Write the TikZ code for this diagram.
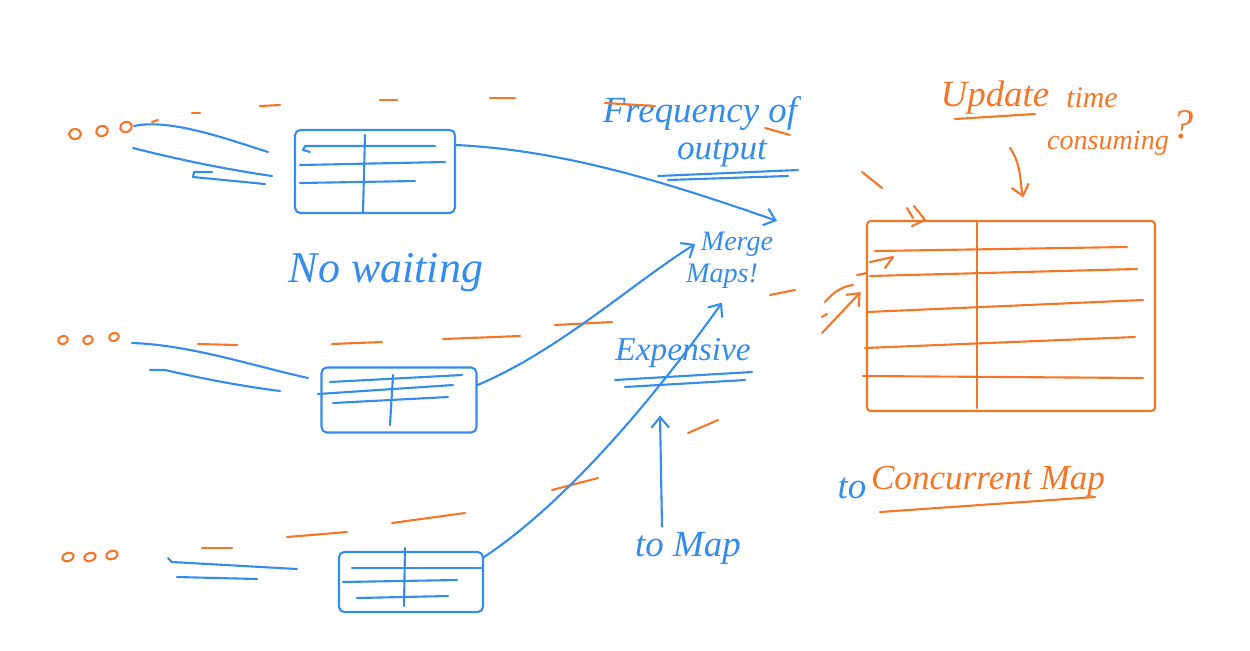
\documentclass[tikz,border=0pt]{standalone}
\usepackage{fontspec}
\setmainfont{Liberation Serif}
\usetikzlibrary{arrows.meta}
\definecolor{inkblue}{RGB}{52,140,236}
\definecolor{inkorange}{RGB}{246,118,40}
\begin{document}
\begin{tikzpicture}[x=0.02cm,y=-0.02cm, line cap=round, line join=round,
  pen/.style={line width=1.2pt},
  bluepen/.style={pen, draw=inkblue},
  orangepen/.style={pen, draw=inkorange},
  tbl/.style={bluepen, rectangle, rounded corners=3pt, inner sep=0pt},
  bigtbl/.style={orangepen, rectangle, rounded corners=2pt, inner sep=0pt},
  hand/.style={font=\itshape, inner sep=0pt, anchor=center},
  btxt/.style={hand, text=inkblue},
  otxt/.style={hand, text=inkorange},
  arr/.style={-{Straight Barb[length=6pt,width=10pt]}},
  sz/.style={font=\itshape\fontsize{#1}{#1}\selectfont},
]
\useasboundingbox (0,0) rectangle (1250,650);

% ---------- small tables (blue) ----------
\node[tbl, minimum width=3.2cm, minimum height=1.66cm] (t1) at (375,171.5) {};
\draw[bluepen] (365,135) -- (363,212);
\draw[bluepen] (310,152) -- (303,150) -- (305,146) -- (435,146);
\draw[bluepen] (300,165) -- (445,162);
\draw[bluepen] (300,183) -- (415,181);

\node[tbl, minimum width=3.1cm, minimum height=1.3cm] (t2) at (399,400) {};
\draw[bluepen] (393,375) -- (390,425);
\draw[bluepen] (330,382) -- (462,375);
\draw[bluepen] (318,394) -- (453,385);
\draw[bluepen] (333,403) -- (448,397);

\node[tbl, minimum width=2.88cm, minimum height=1.2cm] (t3) at (411,582) {};
\draw[bluepen] (405,548) -- (404,606);
\draw[bluepen] (352,568) -- (481,568);
\draw[bluepen] (343,582) -- (457,580);
\draw[bluepen] (357,598) -- (448,596);

% ---------- big table (orange) ----------
\node[bigtbl, minimum width=5.76cm, minimum height=3.8cm] (big) at (1011,316) {};
\draw[orangepen] (977,222) -- (977,408);
\draw[orangepen] (875,251) -- (1127,247);
\draw[orangepen] (870,276) -- (1137,269);
\draw[orangepen] (867,312) -- (1143,300);
\draw[orangepen] (865,348) -- (1135,337);
\draw[orangepen] (863,376) -- (1143,378);

% ---------- dots ----------
\foreach \x/\y/\r in {75/134/0, 102/131/20, 126/127/20}
  \draw[orangepen] (\x,\y) ellipse [x radius=6, y radius=5, rotate=\r];
\foreach \x/\y in {63/340, 88/340, 114/337}
  \draw[orangepen] (\x,\y) ellipse [x radius=5, y radius=4, rotate=20];
\foreach \x/\y in {68/557, 90/557, 112/555}
  \draw[orangepen] (\x,\y) ellipse [x radius=6, y radius=4, rotate=20];
\coordinate (d1) at (134,126);
\coordinate (d2) at (132,343);
\coordinate (d3) at (168,558);

% ---------- orange dashes ----------
\draw[orangepen] (152,122) -- (158,120);
\draw[orangepen] (192,113) -- (200,113);
\draw[orangepen] (260,106) -- (280,105);
\draw[orangepen] (380,100) -- (397,100);
\draw[orangepen] (490,98) -- (515,98);
\draw[orangepen] (198,344) -- (237,345);
\draw[orangepen] (332,344) -- (382,342);
\draw[orangepen] (443,339) -- (520,336);
\draw[orangepen] (555,325) -- (612,322);
\draw[orangepen] (770,295) -- (795,290);
\draw[orangepen] (202,548) -- (232,548);
\draw[orangepen] (287,537) -- (347,532);
\draw[orangepen] (392,523) -- (465,513);
\draw[orangepen] (552,490) -- (598,478);
\draw[orangepen] (688,433) -- (718,420);

% ---------- blue strokes from dots to tables ----------
\draw[bluepen] (d1) .. controls (170,118) and (230,140) .. (268,152);
\draw[bluepen] (133,148) .. controls (180,160) and (230,170) .. (272,176);
\draw[bluepen] (212,172) -- (194,172) -- (193,177) -- (265,184);
\draw[bluepen] (d2) .. controls (190,345) and (250,365) .. (308,378);
\draw[bluepen] (150,370) -- (165,370) .. controls (200,378) and (240,386) .. (280,391);
\draw[bluepen] (d3) -- (172,562) -- (297,569);
\draw[bluepen] (177,577) -- (257,579);

% ---------- texts ----------
\node[btxt, sz=21] (freq) at (700,113) {Frequency of};
\node[btxt, sz=20] (outp) at (722,153) {output};
\draw[orangepen] (605,103) -- (655,106);
\draw[orangepen] (765,128) -- (790,135);
\draw[bluepen] (658,176) -- (798,170);
\draw[bluepen] (668,180) -- (788,176);

\node[btxt, sz=16] (merge) at (737,244) {Merge};
\node[btxt, sz=16] (maps) at (722,276) {Maps!};

\node[btxt, sz=19] (exp) at (683,353) {Expensive};
\draw[bluepen] (615,380) -- (752,372);
\draw[bluepen] (625,387) -- (745,380);

\node[btxt, sz=21] (tomap) at (688,548) {to Map};
\node[btxt, sz=25] (nowait) at (386,273) {No waiting};

\node[otxt, sz=21] (update) at (995,98) {Update};
\draw[orangepen] (955,119) -- (1035,114);
\node[otxt, sz=17] (time) at (1092,98) {time};
\node[otxt, sz=16] (cons) at (1108,143) {consuming};
\node[otxt, sz=24] (qm) at (1183,125) {?};

\node[btxt, sz=21] (to) at (852,488) {to};
\node[otxt, sz=20] (conc) at (988,482) {Concurrent Map};
\draw[orangepen] (880,512) -- (1095,497);

% ---------- blue connectors ----------
\draw[bluepen, arr] ([yshift=0.53cm]t1.east) .. controls (560,150) and (660,180) .. ([xshift=2pt,yshift=6pt]merge.north east);
\draw[bluepen, arr] ([yshift=0.3cm]t2.east) .. controls (560,350) and (630,285) .. ([xshift=-3pt]merge.west);
\draw[bluepen, arr] ([yshift=0.5cm]t3.east) .. controls (570,500) and (660,390) .. ([yshift=-8pt]maps.south);
\draw[bluepen, arr] (tomap.north) ++(-26,-5) -- ([xshift=-0.46cm, yshift=-0.95cm]exp.south);

% ---------- orange connectors / marks ----------
\coordinate (updsrc) at (1010,148);
\draw[orangepen, arr] (updsrc) .. controls (1022,165) and (1020,185) .. ([xshift=7pt, yshift=0.45cm]big.north);
\draw[orangepen] (862,172) -- (882,188);
\draw[orangepen] (907,208) -- (913,218) (914,206) -- (925,220) -- (912,226);
\draw[orangepen] (870,262) -- (893,257) -- (885,268);
\draw[orangepen] (857,275) -- (867,273);
\draw[orangepen, arr] (822,333) -- ([xshift=-3pt,yshift=0.48cm]big.west);
\draw[orangepen] (825,302) .. controls (835,290) and (845,286) .. (853,285);
\draw[orangepen] (822,317) -- (827,314);
\end{tikzpicture}
\end{document}
